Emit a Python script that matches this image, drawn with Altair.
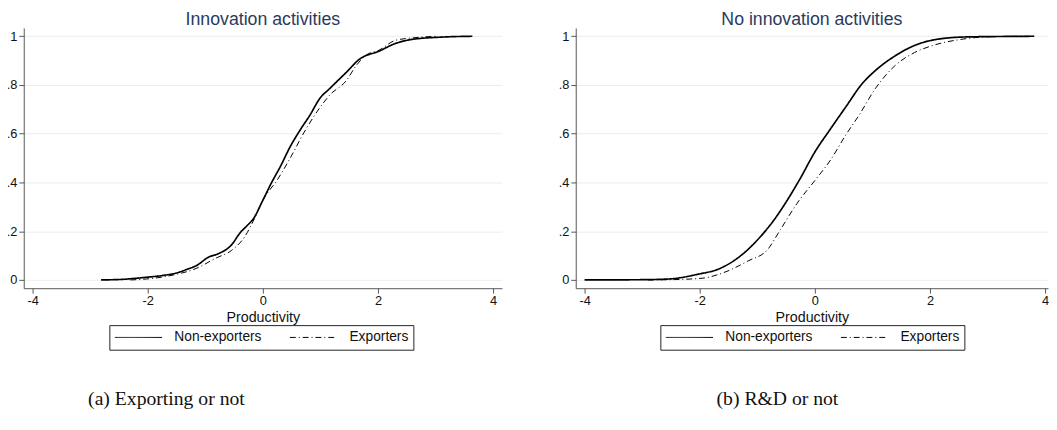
import altair as alt
import pandas as pd

# ---- data (ECDF of productivity) ----
series_names = ["Non-exporters", "Exporters"]
titles = ["Innovation activities", "No innovation activities"]
captions = ["(a) Exporting or not", "(b) R&D or not"]
x_ticks = [-4, -2, 0, 2, 4]
y_ticks = [0, 0.2, 0.4, 0.6, 0.8, 1]

a_non_x = [-2.81, -2.4, -2.02, -1.75, -1.51, -1.3, -1.16, -0.94, -0.77, -0.54, -0.40, -0.26, -0.17,
           0.0, 0.14, 0.31, 0.48, 0.65, 0.82, 0.99, 1.16, 1.45, 1.68, 2.02, 2.30, 2.59, 3.15, 3.64]
a_non_y = [0.0, 0.003, 0.011, 0.018, 0.028, 0.045, 0.058, 0.094, 0.108, 0.145, 0.192, 0.226, 0.249,
           0.327, 0.394, 0.468, 0.549, 0.616, 0.677, 0.745, 0.785, 0.852, 0.906, 0.939, 0.970, 0.987, 0.997, 1.0]
a_exp_x = [-2.3, -2.02, -1.56, -1.16, -0.82, -0.54, -0.31, -0.17, 0.0, 0.26, 0.48, 0.71, 0.94,
           1.16, 1.45, 1.62, 1.79, 2.02, 2.30, 2.59, 3.04]
a_exp_y = [0.0, 0.004, 0.02, 0.047, 0.089, 0.122, 0.179, 0.24, 0.327, 0.414, 0.502, 0.603, 0.69,
           0.758, 0.818, 0.879, 0.922, 0.943, 0.983, 0.993, 1.0]

b_non_x = [-4.0, -3.0, -2.53, -2.02, -1.68, -1.28, -0.94, -0.71, -0.48, -0.26, 0.0, 0.26, 0.54,
           0.82, 1.05, 1.39, 1.73, 2.02, 2.59, 3.2, 3.81]
b_non_y = [0.0, 0.001, 0.004, 0.024, 0.044, 0.101, 0.179, 0.246, 0.327, 0.414, 0.525, 0.616, 0.711,
           0.805, 0.859, 0.919, 0.962, 0.983, 0.997, 0.999, 1.0]
b_exp_x = [-2.9, -2.53, -1.96, -1.62, -1.16, -0.82, -0.60, -0.31, 0.0, 0.26, 0.54, 0.77, 1.05,
           1.39, 1.73, 2.02, 2.59, 3.15, 3.81]
b_exp_y = [0.0, 0.001, 0.007, 0.027, 0.078, 0.125, 0.206, 0.314, 0.408, 0.488, 0.596, 0.677, 0.785,
           0.879, 0.933, 0.96, 0.989, 0.999, 1.0]

FONT = "Liberation Sans"
AXIS_COLOR = "#555555"
GRID_COLOR = "#e6eff1"


def make_df(nx, ny, ex, ey):
    rows = [{"x": x, "y": y, "series": series_names[0]} for x, y in zip(nx, ny)]
    rows += [{"x": x, "y": y, "series": series_names[1]} for x, y in zip(ex, ey)]
    return pd.DataFrame(rows)


def panel(df, title, caption, xdom, width, legend_x, cap_x):
    enc = dict(
        x=alt.X("x:Q",
                scale=alt.Scale(domain=xdom, nice=False, zero=False),
                axis=alt.Axis(values=x_ticks, title="Productivity", grid=False,
                              tickSize=5, labelPadding=2, titlePadding=3,
                              labelFontSize=13, titleFontSize=14.5, titleFontWeight="normal",
                              domainColor=AXIS_COLOR, tickColor=AXIS_COLOR,
                              labelColor="#111111", titleColor="#111111",
                              labelExpr="datum.value + ''")),
        y=alt.Y("y:Q",
                scale=alt.Scale(domain=[-0.034, 1.034], nice=False, zero=False),
                axis=alt.Axis(values=y_ticks, title=None, grid=True, gridColor=GRID_COLOR,
                              gridWidth=1, tickSize=5, labelPadding=2, labelFontSize=13,
                              domainColor=AXIS_COLOR, tickColor=AXIS_COLOR, labelColor="#111111",
                              labelExpr="datum.value == 0 ? '0' : datum.value == 1 ? '1' : replace(format(datum.value, '.1f'), '0.', '.')")),
        strokeDash=alt.StrokeDash("series:N",
                                  scale=alt.Scale(domain=series_names, range=[[1, 0], [6, 3, 1, 3]]),
                                  legend=alt.Legend(title=None, orient="none", legendX=legend_x, legendY=302,
                                                    direction="horizontal", symbolType="stroke",
                                                    symbolSize=2304, symbolStrokeWidth=1,
                                                    symbolStrokeColor="black", clipHeight=15,
                                                    labelFontSize=14, labelOffset=12, columnPadding=28,
                                                    padding=5, strokeColor="#222222", fillColor="white",
                                                    labelColor="#111111", labelFont=FONT)),
    )
    base = alt.Chart(df)
    solid = base.transform_filter(alt.datum.series == series_names[0]).mark_line(
        color="black", interpolate="monotone", strokeWidth=1.7).encode(**enc)
    dashed = base.transform_filter(alt.datum.series == series_names[1]).mark_line(
        color="black", interpolate="monotone", strokeWidth=1.0).encode(**enc)
    cap = alt.Chart(pd.DataFrame({"caption": [caption]})).mark_text(
        font="Liberation Serif", fontSize=20, align="center", baseline="middle", color="#111111"
    ).encode(x=alt.value(cap_x), y=alt.value(377), text="caption:N")
    return alt.layer(solid, dashed, cap).properties(
        width=width, height=264.5,
        title=alt.TitleParams(title, fontSize=18, font=FONT, fontWeight="normal",
                              color="#2b3a5c", offset=-1),
    )


df_a = make_df(a_non_x, a_non_y, a_exp_x, a_exp_y)
df_b = make_df(b_non_x, b_non_y, b_exp_x, b_exp_y)

left = panel(df_a, titles[0], captions[0], [-4.154, 4.154], 486, 87, 145)
right = panel(df_b, titles[1], captions[1], [-4.154, 4.05], 480, 86, 205)

chart = alt.hconcat(left, right, spacing=57).resolve_scale(
    strokeDash="independent", x="independent"
).resolve_legend(strokeDash="independent").properties(
    padding={"left": -2, "top": 0, "right": 0, "bottom": 0}
).configure(font=FONT).configure_view(stroke=None)

chart.save("out.html", embed_options={"renderer": "svg", "actions": False})
